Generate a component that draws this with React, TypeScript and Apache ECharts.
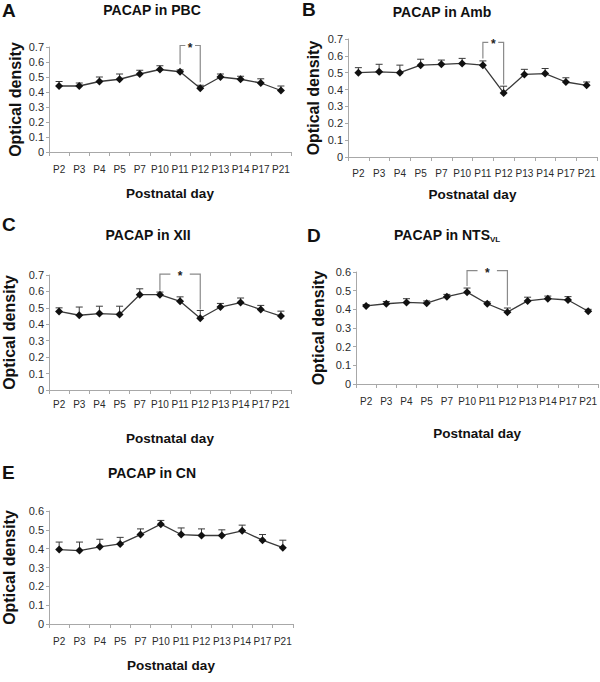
import React, { useEffect, useRef } from "react";
import * as echarts from "echarts";

const categories = ["P2", "P3", "P4", "P5", "P7", "P10", "P11", "P12", "P13", "P14", "P17", "P21"];

const pbcMean = [0.44, 0.44, 0.47, 0.485, 0.52, 0.55, 0.535, 0.425, 0.5, 0.485, 0.46, 0.41];
const pbcErr = [0.03, 0.02, 0.03, 0.035, 0.025, 0.025, 0.012, 0.02, 0.02, 0.02, 0.028, 0.03];

const ambMean = [0.5, 0.505, 0.5, 0.545, 0.55, 0.555, 0.545, 0.38, 0.49, 0.495, 0.445, 0.425];
const ambErr = [0.03, 0.045, 0.045, 0.035, 0.025, 0.03, 0.025, 0.04, 0.03, 0.03, 0.025, 0.02];

const xiiMean = [0.478, 0.455, 0.465, 0.46, 0.58, 0.58, 0.54, 0.437, 0.505, 0.532, 0.49, 0.45];
const xiiErr = [0.022, 0.05, 0.045, 0.05, 0.036, 0.016, 0.027, 0.047, 0.022, 0.028, 0.025, 0.03];

const ntsMean = [0.418, 0.43, 0.437, 0.433, 0.468, 0.492, 0.43, 0.385, 0.445, 0.457, 0.45, 0.39];
const ntsErr = [0.008, 0.012, 0.02, 0.012, 0.012, 0.022, 0.01, 0.022, 0.02, 0.014, 0.018, 0.01];

const cnMean = [0.395, 0.39, 0.41, 0.425, 0.475, 0.53, 0.475, 0.47, 0.47, 0.495, 0.445, 0.405];
const cnErr = [0.04, 0.045, 0.04, 0.035, 0.03, 0.02, 0.035, 0.035, 0.03, 0.03, 0.03, 0.04];

// significance brackets: [fromIndex, toIndex, topValue, leftLegBottom, rightLegBottom]
const bracketA = [6, 7, 0.71, 0.585, 0.465];
const bracketB = [6, 7, 0.68, 0.585, 0.43];
const bracketC = [5, 7, 0.705, 0.605, 0.49];
const bracketD = [5, 7, 0.607, 0.525, 0.42];

const yMaxes = [0.7, 0.7, 0.7, 0.6, 0.6];

const FONT = "'Liberation Sans', Arial, Helvetica, sans-serif";

const panels = [
  { mean: pbcMean, err: pbcErr, bracket: bracketA, grid: { left: 49, top: 47, width: 242, height: 105 }, labelMargin: 12, nameGap: 34, yNameGap: 26 },
  { mean: ambMean, err: ambErr, bracket: bracketB, grid: { left: 348, top: 39, width: 249, height: 118 }, labelMargin: 11, nameGap: 30, yNameGap: 27 },
  { mean: xiiMean, err: xiiErr, bracket: bracketC, grid: { left: 47, top: 275, width: 244, height: 115 }, labelMargin: 9, nameGap: 41, yNameGap: 32 },
  { mean: ntsMean, err: ntsErr, bracket: bracketD, grid: { left: 356, top: 272, width: 244, height: 112 }, labelMargin: 12, nameGap: 42, yNameGap: 30 },
  { mean: cnMean, err: cnErr, bracket: null as number[] | null, grid: { left: 48, top: 511, width: 245, height: 113 }, labelMargin: 12, nameGap: 34, yNameGap: 32 },
];

function errorRender(params: any, api: any) {
  const x = api.value(0);
  const p0 = api.coord([x, api.value(1)]);
  const p1 = api.coord([x, api.value(2)]);
  const st = { stroke: "#3a3a3a", lineWidth: 1 };
  return {
    type: "group",
    children: [
      { type: "line", shape: { x1: p0[0], y1: p0[1], x2: p1[0], y2: p1[1] }, style: st },
      { type: "line", shape: { x1: p1[0] - 3.5, y1: p1[1], x2: p1[0] + 3.5, y2: p1[1] }, style: st },
    ],
  };
}

function bracketRender(params: any, api: any) {
  const i = api.value(0);
  const j = api.value(1);
  const top = api.value(2);
  const L = api.coord([i, top]);
  const R = api.coord([j, top]);
  const Lb = api.coord([i, api.value(3)]);
  const Rb = api.coord([j, api.value(4)]);
  const w = R[0] - L[0];
  const st = { stroke: "#8a8a8a", lineWidth: 1.2, fill: null };
  return {
    type: "group",
    children: [
      { type: "polyline", shape: { points: [Lb, L, [L[0] + w * 0.26, L[1]]] }, style: st },
      { type: "polyline", shape: { points: [[R[0] - w * 0.26, R[1]], R, Rb] }, style: st },
      {
        type: "text",
        x: L[0] + w / 2,
        y: L[1] + 2,
        style: {
          text: "*",
          align: "center",
          verticalAlign: "middle",
          textAlign: "center",
          textVerticalAlign: "middle",
          fontSize: 12,
          fontWeight: "bold",
          fontFamily: FONT,
          fill: "#222",
        },
      },
    ],
  };
}

const letterStyle = { fontSize: 19, fontWeight: "bold", fontFamily: FONT, fill: "#111" };
const titleStyle = { fontSize: 14, fontWeight: "bold", fontFamily: FONT, fill: "#111" };

export default function App() {
  const ref = useRef<HTMLDivElement>(null);
  useEffect(() => {
    if (!ref.current) return;
    const chart = echarts.init(ref.current, undefined, { renderer: "svg" });

    const grids: any[] = [];
    const xAxes: any[] = [];
    const yAxes: any[] = [];
    const series: any[] = [];

    panels.forEach((p, k) => {
      grids.push({ ...p.grid, containLabel: false });
      xAxes.push({
        type: "category",
        gridIndex: k,
        data: categories,
        boundaryGap: true,
        axisLine: { lineStyle: { color: "#a8a8a8", width: 1 } },
        axisTick: { show: true, length: 4, alignWithLabel: false, lineStyle: { color: "#a8a8a8" } },
        axisLabel: { fontSize: 10, color: "#2a2a2a", margin: p.labelMargin, interval: 0, fontFamily: FONT },
        name: "Postnatal day",
        nameLocation: "middle",
        nameGap: p.nameGap,
        nameTextStyle: { fontSize: 13.5, fontWeight: "bold", color: "#111", fontFamily: FONT },
        splitLine: { show: false },
      });
      yAxes.push({
        type: "value",
        gridIndex: k,
        min: 0,
        max: yMaxes[k],
        interval: 0.1,
        axisLine: { show: true, lineStyle: { color: "#a8a8a8", width: 1 } },
        axisTick: { show: true, length: 3, lineStyle: { color: "#a8a8a8" } },
        axisLabel: { fontSize: 11, color: "#2a2a2a", margin: 5, fontFamily: FONT },
        splitLine: { show: false },
        name: "Optical density",
        nameLocation: "middle",
        nameGap: p.yNameGap,
        nameTextStyle: { fontSize: 16, fontWeight: "bold", color: "#111", fontFamily: FONT },
      });
      series.push({
        type: "custom",
        xAxisIndex: k,
        yAxisIndex: k,
        z: 1,
        renderItem: errorRender,
        encode: { x: 0, y: [1, 2] },
        data: p.mean.map((m, i) => [i, m, m + p.err[i]]),
      });
      series.push({
        type: "line",
        xAxisIndex: k,
        yAxisIndex: k,
        z: 3,
        data: p.mean,
        symbol: "diamond",
        symbolSize: 8,
        lineStyle: { color: "#3a3a3a", width: 1.3 },
        itemStyle: { color: "#111" },
      });
      if (p.bracket) {
        series.push({
          type: "custom",
          xAxisIndex: k,
          yAxisIndex: k,
          z: 2,
          clip: false,
          renderItem: bracketRender,
          encode: { x: [0, 1], y: [2, 3, 4] },
          data: [p.bracket],
        });
      }
    });

    const graphic: any[] = [
      { type: "text", x: 2, y: 10, style: { ...letterStyle, text: "A", textVerticalAlign: "middle" } },
      { type: "text", x: 152, y: 10, style: { ...titleStyle, text: "PACAP in PBC", textAlign: "center", textVerticalAlign: "middle" } },
      { type: "text", x: 302, y: 9, style: { ...letterStyle, text: "B", textVerticalAlign: "middle" } },
      { type: "text", x: 442, y: 12, style: { ...titleStyle, text: "PACAP in Amb", textAlign: "center", textVerticalAlign: "middle" } },
      { type: "text", x: 2, y: 224, style: { ...letterStyle, text: "C", textVerticalAlign: "middle" } },
      { type: "text", x: 148, y: 235, style: { ...titleStyle, text: "PACAP in XII", textAlign: "center", textVerticalAlign: "middle" } },
      { type: "text", x: 307, y: 235, style: { ...letterStyle, text: "D", textVerticalAlign: "middle" } },
      { type: "text", x: 490, y: 235, style: { ...titleStyle, text: "PACAP in NTS", textAlign: "right", textVerticalAlign: "middle" } },
      { type: "text", x: 490, y: 239, style: { ...titleStyle, fontSize: 8, text: "VL", textAlign: "left", textVerticalAlign: "middle" } },
      { type: "text", x: 2, y: 472, style: { ...letterStyle, text: "E", textVerticalAlign: "middle" } },
      { type: "text", x: 152, y: 473, style: { ...titleStyle, text: "PACAP in CN", textAlign: "center", textVerticalAlign: "middle" } },
    ];

    chart.setOption({
      animation: false,
      backgroundColor: "#ffffff",
      textStyle: { fontFamily: FONT },
      grid: grids,
      xAxis: xAxes,
      yAxis: yAxes,
      series,
      graphic,
    });
    return () => chart.dispose();
  }, []);

  return (
    <div
      ref={ref}
      style={{ position: "absolute", left: 0, top: 0, width: 600, height: 682, background: "#fff" }}
    />
  );
}
